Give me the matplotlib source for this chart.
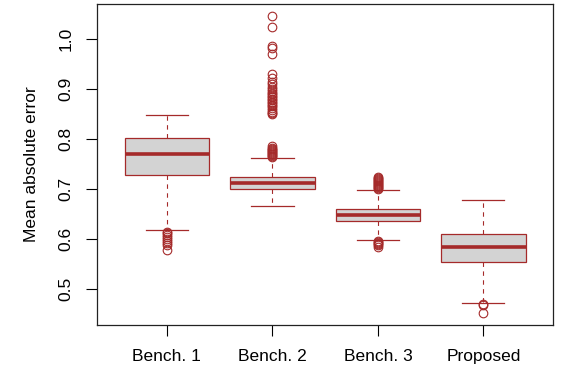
import matplotlib
matplotlib.use("Agg")
import matplotlib.pyplot as plt

plt.rcParams['font.family'] = ['Liberation Sans', 'DejaVu Sans']

# box statistics
labels = ["Bench. 1", "Bench. 2", "Bench. 3", "Proposed"]
q1 = [0.728, 0.7006, 0.636, 0.5546]
medians = [0.7706, 0.7126, 0.6486, 0.584]
q3 = [0.8026, 0.7252, 0.6606, 0.610]
whislo = [0.619, 0.6666, 0.5986, 0.4726]
whishi = [0.8486, 0.7632, 0.6986, 0.6792]

fliers_b1 = [0.615, 0.612, 0.608, 0.604, 0.600, 0.596, 0.592, 0.588, 0.579]
fliers_b2 = [1.047, 1.025, 0.987, 0.983, 0.970, 0.930,
             0.922, 0.915, 0.910, 0.905, 0.900, 0.897, 0.893, 0.890, 0.887,
             0.884, 0.881, 0.878, 0.875, 0.872, 0.869, 0.866, 0.862, 0.858,
             0.855, 0.852, 0.850,
             0.786, 0.783, 0.780, 0.778, 0.776, 0.774, 0.772, 0.770, 0.768,
             0.766, 0.765]
fliers_b3 = [0.725, 0.722, 0.720, 0.718, 0.716, 0.714, 0.712, 0.710, 0.708,
             0.706, 0.704, 0.702, 0.700,
             0.597, 0.595, 0.593, 0.591, 0.589, 0.584]
fliers_pr = [0.470, 0.468, 0.452]
fliers = [fliers_b1, fliers_b2, fliers_b3, fliers_pr]

yticks = [0.5, 0.6, 0.7, 0.8, 0.9, 1.0]

brown = "#a52a2a"

stats = []
for i in range(len(labels)):
    stats.append(dict(label=labels[i], q1=q1[i], med=medians[i], q3=q3[i],
                      whislo=whislo[i], whishi=whishi[i], fliers=fliers[i]))

fig = plt.figure(figsize=(5.67, 3.73), dpi=100)
ax = fig.add_axes([0.1716, 0.1287, 0.8037, 0.8606])

ax.bxp(stats, positions=[1, 2, 3, 4], widths=0.8, capwidths=0.4,
       patch_artist=True, showfliers=True,
       boxprops=dict(facecolor="#d3d3d3", edgecolor=brown, linewidth=0.9),
       medianprops=dict(color=brown, linewidth=2.6, solid_capstyle="butt"),
       whiskerprops=dict(color=brown, linewidth=0.8, linestyle=(0, (4, 4))),
       capprops=dict(color=brown, linewidth=0.9),
       flierprops=dict(marker="o", markerfacecolor="none", markeredgecolor=brown,
                       markersize=6.2, markeredgewidth=0.8))

ax.set_xlim(0.34, 4.66)
ax.set_ylim(0.4286, 1.0706)
ax.set_yticks(yticks)
ax.set_yticklabels([f"{t:.1f}" for t in yticks], rotation=90, va="center")
ax.tick_params(axis="x", length=8, width=0.8, pad=9.5, labelsize=12.5)
ax.tick_params(axis="y", length=8, width=0.8, pad=9, labelsize=12.5)

for s in ax.spines.values():
    s.set_linewidth(0.9)
    s.set_color("#222222")

ax.set_ylabel("Mean absolute error", fontsize=12.5, va="center")
ax.yaxis.set_label_coords(-0.1439, 0.5)

fig.savefig("out.png", dpi=100)
